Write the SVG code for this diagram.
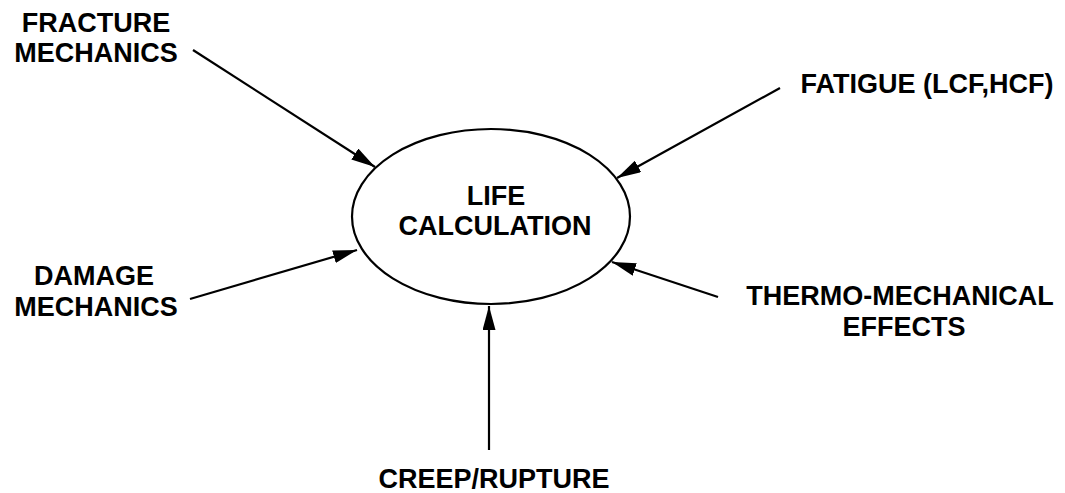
<svg xmlns="http://www.w3.org/2000/svg" width="1065" height="493" viewBox="0 0 1065 493">
<style>
text{font-family:"Liberation Sans",Arial,sans-serif;font-weight:bold;font-size:27px;fill:#000;text-anchor:middle}
.c{stroke:#000;stroke-width:2.2;fill:none}
</style>
<defs>
<marker id="ah" viewBox="0 0 24 13" refX="24" refY="6.5" markerWidth="24" markerHeight="13" markerUnits="userSpaceOnUse" orient="auto">
<path d="M0,0 L24,6.5 L0,13 Z" fill="#000"/>
</marker>
</defs>
<rect width="1065" height="493" fill="#fff"/>
<g id="life">
<ellipse cx="491" cy="216.5" rx="139" ry="87.5" class="c"/>
<text x="496" y="205">LIFE</text>
<text x="495" y="235">CALCULATION</text>
</g>
<g id="fracture">
<text x="96" y="32">FRACTURE</text>
<text x="96" y="62">MECHANICS</text>
</g>
<g id="fatigue">
<text x="927" y="93">FATIGUE (LCF,HCF)</text>
</g>
<g id="damage">
<text x="94" y="285">DAMAGE</text>
<text x="96" y="316">MECHANICS</text>
</g>
<g id="thermo">
<text x="900" y="305">THERMO-MECHANICAL</text>
<text x="904" y="336">EFFECTS</text>
</g>
<g id="creep">
<text x="494" y="488">CREEP/RUPTURE</text>
</g>
<g id="connectors">
<line x1="193" y1="50" x2="375" y2="167" class="c" marker-end="url(#ah)"/>
<line x1="780" y1="88" x2="617" y2="178" class="c" marker-end="url(#ah)"/>
<line x1="190" y1="299" x2="357" y2="250" class="c" marker-end="url(#ah)"/>
<line x1="718" y1="297" x2="612" y2="262" class="c" marker-end="url(#ah)"/>
<line x1="489" y1="450" x2="489" y2="306" class="c" marker-end="url(#ah)"/>
</g>
</svg>
